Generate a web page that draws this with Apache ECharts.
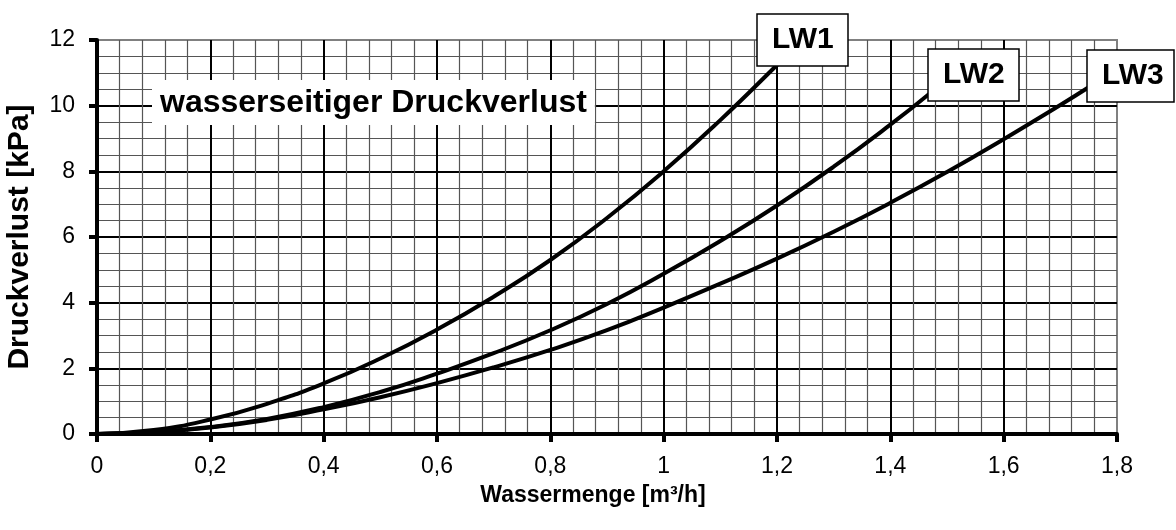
<!DOCTYPE html>
<html>
<head>
<meta charset="utf-8">
<title>wasserseitiger Druckverlust</title>
<script src="https://cdn.jsdelivr.net/npm/echarts@6/dist/echarts.min.js"></script>
<style>
  html, body { margin: 0; padding: 0; background: #fff; }
  #main { width: 1176px; height: 530px; }
</style>
</head>
<body>
<div id="main"></div>
<script>
// Wassermenge [m³/h] / Druckverlust [kPa]
const lw1X = [0, 0.1, 0.2, 0.3, 0.4, 0.5, 0.6, 0.7, 0.8, 0.9, 1.0, 1.1, 1.2, 1.22]
const lw1Y = [0, 0.12, 0.44, 0.92, 1.54, 2.3, 3.18, 4.18, 5.3, 6.58, 8.0, 9.56, 11.24, 11.6]

const lw2X = [0, 0.1, 0.2, 0.3, 0.4, 0.5, 0.6, 0.7, 0.8, 0.9, 1.0, 1.1, 1.2, 1.3, 1.4, 1.47]
const lw2Y = [0, 0.06, 0.21, 0.46, 0.82, 1.28, 1.84, 2.46, 3.16, 3.96, 4.88, 5.88, 6.96, 8.14, 9.42, 10.38]

const lw3X = [0, 0.1, 0.2, 0.3, 0.4, 0.5, 0.6, 0.7, 0.8, 0.9, 1.0, 1.1, 1.2, 1.3, 1.4, 1.5, 1.6, 1.7, 1.75]
const lw3Y = [0, 0.06, 0.2, 0.43, 0.75, 1.12, 1.55, 2.03, 2.56, 3.16, 3.85, 4.58, 5.34, 6.16, 7.04, 7.98, 8.98, 10.02, 10.56]

const seriesNames = ['LW1', 'LW2', 'LW3']

const pairs = (xs, ys) => xs.map((x, i) => [x, ys[i]])
const comma = v => String(Math.round(v * 100) / 100).replace('.', ',')

const FONT = '"Liberation Sans", Arial, sans-serif'

// Kasten fuer die Kurvenbeschriftung
const labelBox = (text, left, top, padRight) => ({
  text: text,
  left: left,
  top: top,
  backgroundColor: '#fff',
  borderColor: '#000',
  borderWidth: 1.5,
  padding: [10, padRight, 10, 15],
  textStyle: { fontFamily: FONT, fontSize: 30, fontWeight: 'bold', color: '#000', lineHeight: 32 }
})

let chartDom = document.getElementById('main')
let myChart = echarts.init(chartDom)

let option = {
  animation: false,
  backgroundColor: '#fff',
  grid: {
    left: 97,
    right: 59,
    top: 40,
    bottom: 96,
    outerBoundsMode: 'none',
    containLabel: false,
    show: true,
    borderColor: '#808080',
    borderWidth: 2,
    backgroundColor: 'transparent'
  },
  title: [
    {
      text: 'wasserseitiger Druckverlust',
      left: 152,
      top: 80,
      backgroundColor: '#fff',
      padding: [7, 8, 6, 8],
      textStyle: { fontFamily: FONT, fontSize: 32, fontWeight: 'bold', color: '#000', lineHeight: 32 }
    },
    labelBox(seriesNames[0], 757, 14, 15),
    labelBox(seriesNames[1], 928, 49, 15),
    labelBox(seriesNames[2], 1087, 50, 11)
  ],
  xAxis: {
    type: 'value',
    min: 0,
    max: 1.8,
    interval: 0.2,
    name: 'Wassermenge [m³/h]',
    nameLocation: 'middle',
    nameGap: 50,
    nameTextStyle: { fontFamily: FONT, fontSize: 23, fontWeight: 'bold', color: '#000', padding: [0, 28, 0, 0] },
    axisLine: { show: true, onZero: false, lineStyle: { color: '#000', width: 4 } },
    axisTick: { show: true, length: 8, lineStyle: { color: '#000', width: 4 } },
    axisLabel: { fontFamily: FONT, fontSize: 23, color: '#000', margin: 21, formatter: comma },
    splitLine: { show: true, showMaxLine: false, lineStyle: { color: '#000', width: 2 } },
    minorTick: { show: false, splitNumber: 5 },
    minorSplitLine: { show: true, lineStyle: { color: '#555', width: 1.2 } }
  },
  yAxis: {
    type: 'value',
    min: 0,
    max: 12,
    interval: 2,
    name: 'Druckverlust [kPa]',
    nameLocation: 'middle',
    nameGap: 62,
    nameTextStyle: { fontFamily: FONT, fontSize: 30, fontWeight: 'bold', color: '#000' },
    axisLine: { show: true, lineStyle: { color: '#000', width: 4 } },
    axisTick: { show: true, length: 8, lineStyle: { color: '#000', width: 4 } },
    axisLabel: { fontFamily: FONT, fontSize: 23, color: '#000', margin: 22 },
    splitLine: { show: true, showMaxLine: false, lineStyle: { color: '#000', width: 2 } },
    minorTick: { show: false, splitNumber: 4 },
    minorSplitLine: { show: true, lineStyle: { color: '#555', width: 1.2 } }
  },
  series: [
    { name: seriesNames[0], type: 'line', data: pairs(lw1X, lw1Y) },
    { name: seriesNames[1], type: 'line', data: pairs(lw2X, lw2Y) },
    { name: seriesNames[2], type: 'line', data: pairs(lw3X, lw3Y) }
  ].map(s => Object.assign(s, {
    smooth: true,
    symbol: 'none',
    lineStyle: { color: '#000', width: 4 },
    z: 3
  }))
}

myChart.setOption(option)
</script>
</body>
</html>
